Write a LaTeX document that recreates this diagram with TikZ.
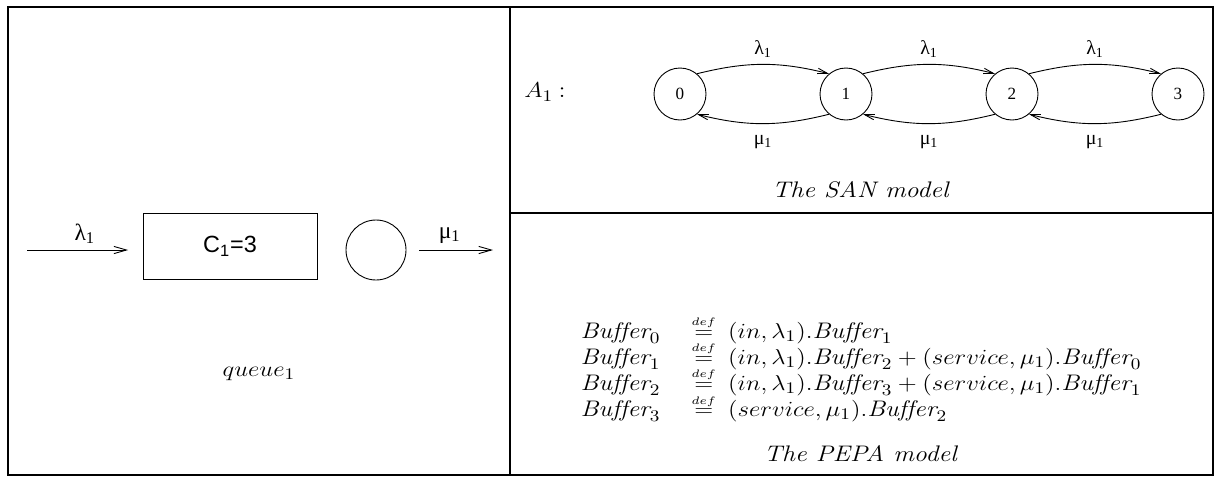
\documentclass[tikz,border=0pt]{standalone}
\usepackage{amsmath,amssymb}
\usepackage{graphicx}
\usepackage{fontspec}
\usepackage{tikz}
\usetikzlibrary{arrows.meta}
\newfontfamily\symfont{Liberation Serif}
\newfontfamily\helv{Liberation Sans}
\def\px{0.555pt}
\newcommand{\wide}[1]{\scalebox{1.15}[1]{#1}}
\newcommand{\defeq}{\mathrel{\smash{\stackrel{\raisebox{-1pt}{$\scriptscriptstyle def$}}{=}}}}

\begin{document}
\begin{tikzpicture}[x=\px,y=-\px,line width=0.5pt,
  frame/.style={line width=1.6pt},
  state/.style={draw,circle,minimum size=52*\px,inner sep=0pt,font=\symfont\fontsize{9.5}{11}\selectfont},
  trans/.style={-{Straight Barb[length=5.5pt,width=3pt]}},
  flow/.style={-{Straight Barb[length=7pt,width=4pt]}},
  rate/.style={font=\symfont\fontsize{11}{13}\selectfont},
  bigrate/.style={font=\symfont\fontsize{13}{15}\selectfont},
  big/.style={font=\fontsize{12.5}{14.5}\selectfont}]
\useasboundingbox (0,0) rectangle (1217,479);
% table frame
\draw[frame] (8,7) rectangle (1213,475);
\draw[frame] (510,7) -- (510,475);
\draw[frame] (510,213) -- (1213,213);
% queue
\coordinate (qin) at (27,250);
\coordinate (qout) at (493,250);
\node[draw,minimum width=174*\px,minimum height=66*\px,font=\helv\fontsize{13}{15}\selectfont] (buf) at (230,246) {C\textsubscript{1}=3};
\node[draw,circle,minimum size=60*\px,inner sep=0pt] (srv) at (376,250) {};
\draw[flow,shorten >=8pt] (qin) -- node[above,bigrate]{λ\textsubscript{1}} (buf.west |- qin);
\draw[flow,shorten <=7pt] (srv.east) -- node[above,bigrate]{μ\textsubscript{1}} (qout);
\node[big] (qname) at (259,374) {\wide{$queue_1$}};
% SAN
\node[big] (aut) at (545,92) {\wide{$A_1\:$:}};
\node[state] (s0) at (680,94) {0};
\node[state] (s1) at (846,94) {1};
\node[state] (s2) at (1012,94) {2};
\node[state] (s3) at (1178,94) {3};
\foreach \a/\b in {s0/s1,s1/s2,s2/s3}{
  \draw[trans] (\a.50) to[bend left=14] node[above,rate]{λ\textsubscript{1}} (\b.130);
  \draw[trans] (\b.-130) to[bend left=14] node[below=3pt,rate]{μ\textsubscript{1}} (\a.-50);
}
\node[big] (san) at (861,190) {\wide{\textit{The SAN model}}};
% PEPA
\node[big] (pepa) at (861,372) {\wide{$\begin{array}{l@{\hspace{15pt}}c@{\hspace{6pt}}l}
\mathit{Buffer}_0 & \defeq & (in,\lambda_1).\mathit{Buffer}_1\\
\mathit{Buffer}_1 & \defeq & (in,\lambda_1).\mathit{Buffer}_2+(service,\mu_1).\mathit{Buffer}_0\\
\mathit{Buffer}_2 & \defeq & (in,\lambda_1).\mathit{Buffer}_3+(service,\mu_1).\mathit{Buffer}_1\\
\mathit{Buffer}_3 & \defeq & (service,\mu_1).\mathit{Buffer}_2
\end{array}$}};
\node[big] (pepacap) at (861,454) {\wide{\textit{The PEPA model}}};
\end{tikzpicture}
\end{document}
